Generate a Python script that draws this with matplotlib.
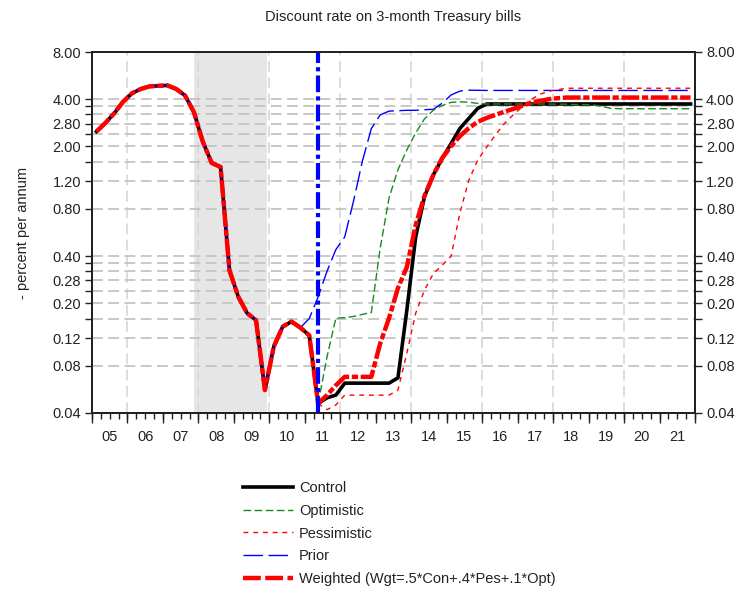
import matplotlib
matplotlib.use('Agg')
import matplotlib.pyplot as plt
from matplotlib.ticker import FixedLocator, FixedFormatter, NullLocator, NullFormatter
from matplotlib.lines import Line2D

plt.rcParams['font.family'] = ['Liberation Sans', 'DejaVu Sans']

# quarterly history 2005Q1 - 2011Q2 (shared by all scenarios)
history = [2.49, 2.82, 3.25, 3.85,
           4.36, 4.65, 4.83, 4.87,
           4.90, 4.65, 4.22, 3.30,
           2.14, 1.57, 1.48, 0.325,
           0.22, 0.173, 0.156, 0.056,
           0.106, 0.142, 0.153, 0.140,
           0.125, 0.046]

# forecasts 2011Q3 - 2021Q4
control = [0.050, 0.052,
           0.062, 0.062, 0.062, 0.062,
           0.062, 0.062, 0.067, 0.18,
           0.53, 0.96, 1.32, 1.68,
           2.09, 2.61, 3.02, 3.50] + [3.73] * 24
optimistic = [0.091, 0.161,
              0.162, 0.165, 0.170, 0.175,
              0.45, 0.94, 1.42, 1.90,
              2.44, 3.00, 3.41, 3.65,
              3.82, 3.85, 3.83, 3.76,
              3.73, 3.73, 3.73, 3.73,
              3.73, 3.73, 3.73, 3.73,
              3.72, 3.72, 3.70, 3.70,
              3.68, 3.60, 3.50, 3.48] + [3.48] * 8
pessimistic = [0.042, 0.045,
               0.052, 0.052, 0.052, 0.052,
               0.052, 0.052, 0.056, 0.096,
               0.173, 0.243, 0.31, 0.35,
               0.40, 0.76, 1.22, 1.64,
               1.98, 2.37, 2.80, 3.18,
               3.57, 3.98, 4.30, 4.50,
               4.60, 4.70, 4.70, 4.70] + [4.70] * 12
weighted = [0.052, 0.060,
            0.068, 0.068, 0.068, 0.068,
            0.111, 0.161, 0.25, 0.34,
            0.63, 0.97, 1.32, 1.69,
            2.01, 2.33, 2.62, 2.87,
            3.04, 3.18, 3.33, 3.47,
            3.63, 3.80, 3.90, 4.00,
            4.06, 4.10, 4.10, 4.10] + [4.10] * 12
# prior forecast 2010Q4 - 2021Q4
prior = [0.14, 0.16, 0.22, 0.32, 0.44,
         0.53, 0.90, 1.62, 2.60,
         3.18, 3.36, 3.38, 3.40,
         3.40, 3.43, 3.45, 3.78,
         4.26, 4.51, 4.57, 4.56] + [4.55] * 24

rec_start, rec_end = 2007.875, 2009.93
jump_off = 2011.375

yticks = [0.04, 0.08, 0.12, 0.16, 0.20, 0.24, 0.28, 0.32, 0.36, 0.40,
          0.80, 1.20, 1.60, 2.00, 2.40, 2.80, 3.20, 3.60, 4.00, 8.00]
ylabeled = [0.04, 0.08, 0.12, 0.20, 0.28, 0.40, 0.80, 1.20, 2.00, 2.80, 4.00, 8.00]
years = list(range(2005, 2022))

FS = 10.5
TXT = '#222222'


def qx(year, q, n):
    return [year + (q - 1 + i) / 4 + 0.125 for i in range(n)]


x_hist = qx(2005, 1, len(history))
x_fc = qx(2011, 2, len(control) + 1)
x_prior = qx(2010, 4, len(prior))

fig = plt.figure(figsize=(7.41, 5.92), dpi=100)
ax = fig.add_axes([92 / 741, 1 - 413 / 592, 603 / 741, 361 / 592])

ax.axvspan(rec_start, rec_end, color='#e6e6e6', zorder=0, lw=0)
for yr in years[1::2]:
    ax.axvline(yr, color='#dadada', lw=1.3, dashes=(6, 3), zorder=1)
for t in yticks[:-1]:
    ax.axhline(t, color='#c4c4c4', lw=1.3, dashes=(6, 3), zorder=1)

ax.plot(x_hist + x_fc[1:], history + control, color='black', lw=2.6, zorder=3)
ax.plot(x_hist[:-3], history[:-3], color='#0000ff', lw=1.0, dashes=(14, 4), zorder=4)
ax.plot(x_prior, prior, color='#0000ff', lw=1.0, dashes=(14, 4), zorder=4)
ax.plot(x_fc, [history[-1]] + pessimistic, color='red', lw=1.0, dashes=(3.5, 3.5), zorder=4)
ax.plot(x_fc, [history[-1]] + optimistic, color='#1a8a1a', lw=1.0, dashes=(5.5, 2.5), zorder=4)
ax.plot(x_hist + x_fc[1:], history + weighted, color='red', lw=3.2,
        dashes=(4, 0.6, 1.4, 0.6), zorder=5)
ax.axvline(jump_off, color='#0000ff', lw=3, dashes=(4, 1, 1, 1), zorder=6)

ax.set_yscale('log')
ax.set_ylim(0.04, 8.0)
ax.set_xlim(2005, 2022)

ax2 = ax.twinx()
ax2.set_yscale('log')
ax2.set_ylim(0.04, 8.0)
for a in (ax, ax2):
    a.yaxis.set_major_locator(FixedLocator(yticks))
    a.yaxis.set_major_formatter(FixedFormatter(['%.2f' % t if t in ylabeled else '' for t in yticks]))
    a.yaxis.set_minor_locator(NullLocator())
    a.tick_params(axis='y', direction='out', length=5, width=1, labelsize=FS,
                  colors=TXT, pad=3)
    for s in a.spines.values():
        s.set_linewidth(1.3)
        s.set_color('#202020')

ax.xaxis.remove_overlapping_locs = False
ax.set_xticks([y + 0.5 for y in years])
ax.set_xticklabels(['%02d' % (y % 100) for y in years])
ax.set_xticks([2005 + i * 0.25 for i in range(69)], minor=True)
ax.tick_params(axis='x', which='major', length=0, labelsize=FS, pad=12, colors=TXT)
ax.tick_params(axis='x', which='minor', length=4, width=1, color='#202020')

sec = ax.secondary_xaxis('bottom')
sec.set_xticks(years + [2022])
sec.xaxis.set_major_formatter(NullFormatter())
sec.tick_params(length=7, width=1, color='#202020')
sec.spines['bottom'].set_visible(False)

ax.set_ylabel('- percent per annum', fontsize=FS, labelpad=16, color=TXT)
fig.text(393.5 / 741, 1 - 17 / 592, 'Discount rate on 3-month Treasury bills',
         ha='center', va='center', fontsize=FS, color=TXT)

handles = [Line2D([], [], color='black', lw=2.6),
           Line2D([], [], color='#1a8a1a', lw=1.0, dashes=(5.5, 2.5)),
           Line2D([], [], color='red', lw=1.0, dashes=(3.5, 3.5)),
           Line2D([], [], color='#0000ff', lw=1.0, dashes=(14, 4)),
           Line2D([], [], color='red', lw=3.2, dashes=(4, 1))]
labels = ['Control', 'Optimistic', 'Pessimistic', 'Prior',
          'Weighted (Wgt=.5*Con+.4*Pes+.1*Opt)']
fig.legend(handles, labels, loc='upper left', bbox_to_anchor=(243 / 741, 1 - 481 / 592),
           frameon=False, fontsize=FS, borderpad=0, borderaxespad=0,
           handlelength=3.4, handletextpad=0.45, labelspacing=0.6,
           labelcolor=TXT)

fig.savefig('out.png', dpi=100)
